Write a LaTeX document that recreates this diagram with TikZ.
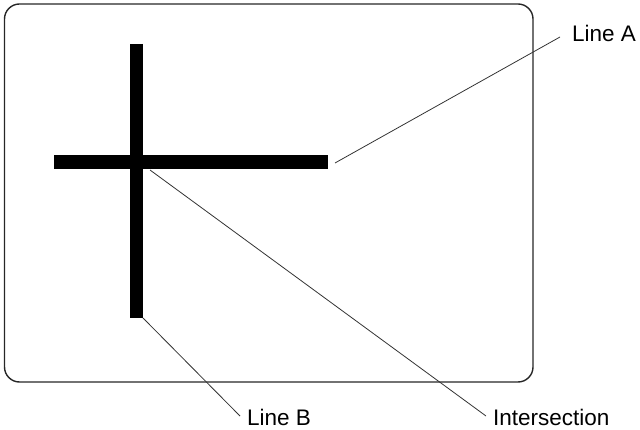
\documentclass[tikz,border=0pt]{standalone}
\usepackage{fontspec}
\setmainfont{Liberation Sans}
\usepackage{tikz}
\usetikzlibrary{calc, positioning}

\tikzset{
    bar/.style={line width=13.5pt, line cap=butt},
    leader/.style={line width=0.8pt, black!80},
    lbl/.style={inner sep=0pt, anchor=base west, font=\fontsize{22.5}{26}\selectfont}
}

\begin{document}
\begin{tikzpicture}[x=1pt, y=-1pt]
    \useasboundingbox (0,0) rectangle (640,430);

    % Khung ngoài
    \draw[line width=1.4pt, black!85, rounded corners=15pt] (4.5,4) rectangle (533,382);

    % Hai thanh
    \draw[bar] (136.5,44) -- (136.5,318);
    \draw[bar] (54,162) -- (328,162);

    % Điểm đầu các đường chú thích
    \coordinate (tipA) at (335,163);
    \coordinate (tipB) at (143,318);
    \coordinate (tipX) at (150,170);
    \coordinate (endA) at (560,37);
    \coordinate (endB) at (240,416);
    \coordinate (endX) at (486,416);

    % Nhãn
    \node[lbl] (labA) at (572,42) {Line A};
    \node[lbl] (labB) at (247,425) {Line B};
    \node[lbl] (labX) at (493,425) {Intersection};

    % Đường chú thích
    \draw[leader] (tipA) -- (endA);
    \draw[leader] (tipB) -- (endB);
    \draw[leader] (tipX) -- (endX);

\end{tikzpicture}
\end{document}
